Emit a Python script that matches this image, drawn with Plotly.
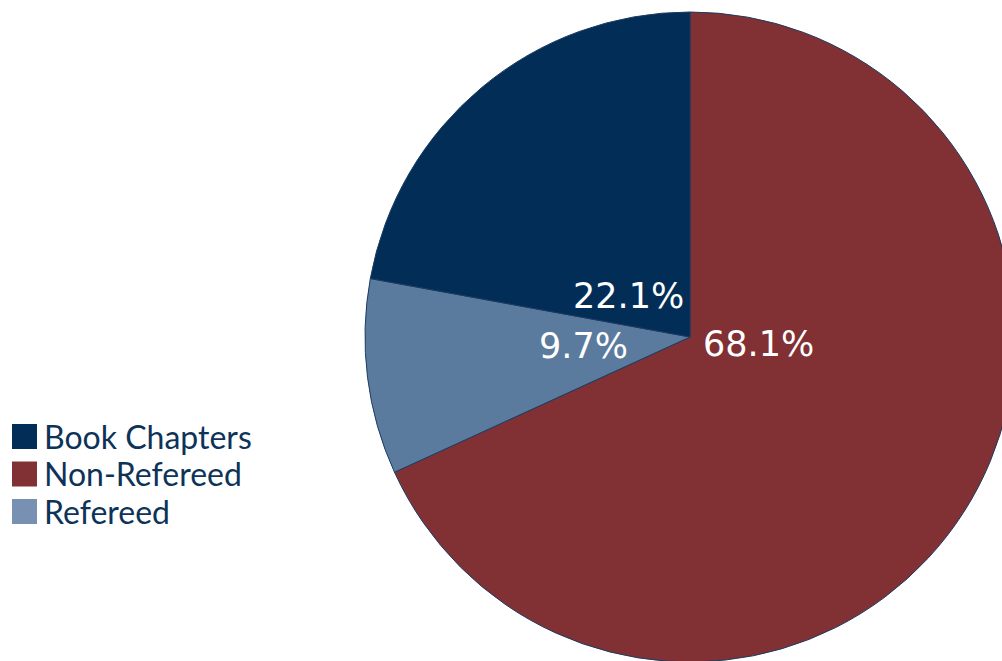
import plotly.graph_objects as go

# Publication mix (percent of total output)
categories = ["Book Chapters", "Non-Refereed", "Refereed"]
shares = [22.1, 68.1, 9.7]
colors = ["#022d56", "#813033", "#5b7b9e"]
legend_colors = ["#022d56", "#813033", "#7891b2"]

# slices are drawn clockwise from 12 o'clock in this order
draw_order = ["Non-Refereed", "Refereed", "Book Chapters"]

W, H = 1030, 680          # canvas slightly larger than the viewport; overflow is hidden
LEGEND_FONT = "Lato"
LABEL_FONT = "DejaVu Sans"


def px(x, y):
    """Pixel position (from top-left) -> paper coordinates."""
    return x / W, 1 - y / H


idx = [categories.index(c) for c in draw_order]

fig = go.Figure()
fig.add_trace(go.Pie(
    labels=[categories[i] for i in idx],
    values=[shares[i] for i in idx],
    marker=dict(colors=[colors[i] for i in idx], line=dict(color="#1c3b63", width=1)),
    sort=False,
    direction="clockwise",
    rotation=0,
    textinfo="none",
    hoverinfo="label+value",
    showlegend=False,
    domain=dict(x=[365 / W, 1015 / W], y=[1 - 662 / H, 1 - 12 / H]),
))

# percentage labels near the centre of the pie
label_pos = {
    "Book Chapters": (686, 296, "right"),
    "Refereed": (630, 346, "right"),
    "Non-Refereed": (701, 344, "left"),
}
annotations = []
for cat, val in zip(categories, shares):
    x, y, anchor = label_pos[cat]
    ax, ay = px(x, y)
    annotations.append(dict(
        x=ax, y=ay, xref="paper", yref="paper", xanchor=anchor, yanchor="middle",
        text=f"{val:.1f}%", showarrow=False,
        font=dict(family=LABEL_FONT, size=35, color="white"),
    ))

# legend: square swatches with category names
shapes = []
for k, (cat, col) in enumerate(zip(categories, legend_colors)):
    top = 424 + k * 37.5
    x0, y0 = px(12, top + 25)
    x1, y1 = px(37, top)
    shapes.append(dict(type="rect", xref="paper", yref="paper", x0=x0, y0=y0, x1=x1, y1=y1,
                       fillcolor=col, line=dict(width=0)))
    tx, ty = px(42, top + 12)
    annotations.append(dict(
        x=tx, y=ty, xref="paper", yref="paper", xanchor="left", yanchor="middle",
        text=cat, showarrow=False,
        font=dict(family=LEGEND_FONT, size=32, color="#0d3358"),
    ))

fig.update_layout(
    width=W, height=H,
    margin=dict(l=0, r=0, t=0, b=0),
    paper_bgcolor="white", plot_bgcolor="white",
    showlegend=False,
    annotations=annotations,
    shapes=shapes,
)

fig.write_html(
    "out.html",
    post_script="document.body.style.overflow='hidden';document.documentElement.style.overflow='hidden';",
)
